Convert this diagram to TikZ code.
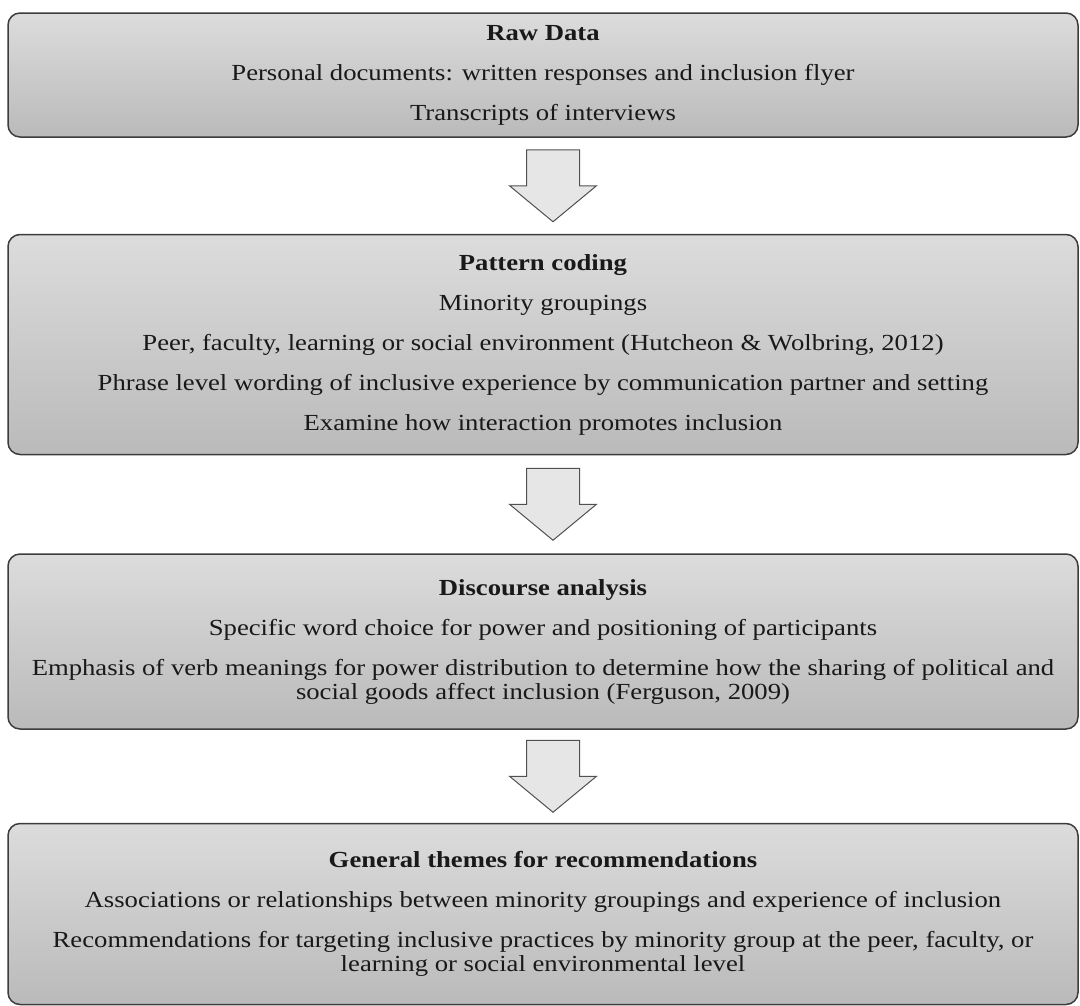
\documentclass[tikz,border=0pt]{standalone}
\usepackage{fontspec}
\setmainfont{Liberation Serif}[FakeStretch=1.16]
\usepackage{tikz}
\usetikzlibrary{positioning,calc}
\definecolor{boxtop}{RGB}{220,220,220}
\definecolor{boxbottom}{RGB}{186,186,186}
\definecolor{boxline}{RGB}{60,60,60}
\definecolor{arrowfill}{RGB}{230,230,230}
\definecolor{arrowline}{RGB}{80,80,80}
\definecolor{inktext}{RGB}{25,25,25}
\tikzset{
  stage/.style={rectangle, rounded corners=12pt, draw=boxline, line width=1.5pt,
                top color=boxtop, bottom color=boxbottom, minimum width=1070pt,
                align=center, text=inktext, inner sep=0pt,
                font=\fontsize{23}{24}\selectfont},
  blockarrow/.style={draw=arrowline, line width=1pt, fill=arrowfill, line join=miter},
  pics/blockdown/.style={code={
    \draw[blockarrow] (-26.5pt,36pt) -- (26.5pt,36pt) -- (26.5pt,0pt) -- (43.5pt,0pt)
      -- (0pt,-36pt) -- (-43.5pt,0pt) -- (-26.5pt,0pt) -- cycle;}},
}

\begin{document}
\begin{tikzpicture}
  \useasboundingbox (0,0) rectangle (1080pt,-1005pt);

  \node[stage, minimum height=124pt] (raw) at (543pt,-75pt)
    {\textbf{Raw Data}\\[16pt]
     Personal documents: written responses and inclusion flyer\\[16pt]
     Transcripts of interviews};
  \node[stage, minimum height=220pt] (pattern) [below=96pt of raw]
    {\textbf{Pattern coding}\\[16pt]
     Minority groupings\\[16pt]
     Peer, faculty, learning or social environment (Hutcheon \& Wolbring, 2012)\\[16pt]
     Phrase level wording of inclusive experience by communication partner and setting\\[16pt]
     Examine how interaction promotes inclusion};
  \node[stage, minimum height=175pt] (discourse) [below=98pt of pattern]
    {\textbf{Discourse analysis}\\[16pt]
     Specific word choice for power and positioning of participants\\[16pt]
     Emphasis of verb meanings for power distribution to determine how the sharing of political and\\
     social goods affect inclusion (Ferguson, 2009)};
  \node[stage, minimum height=181pt] (themes) [below=93pt of discourse]
    {\textbf{General themes for recommendations}\\[16pt]
     Associations or relationships between minority groupings and experience of inclusion\\[16pt]
     Recommendations for targeting inclusive practices by minority group at the peer, faculty, or\\
     learning or social environmental level};

  % block arrows between the stages
  \pic at ($(raw.south)!0.5!(pattern.north)+(10pt,0)$) {blockdown};
  \pic at ($(pattern.south)!0.5!(discourse.north)+(10pt,0)$) {blockdown};
  \pic at ($(discourse.south)!0.5!(themes.north)+(10pt,0)$) {blockdown};
\end{tikzpicture}
\end{document}
